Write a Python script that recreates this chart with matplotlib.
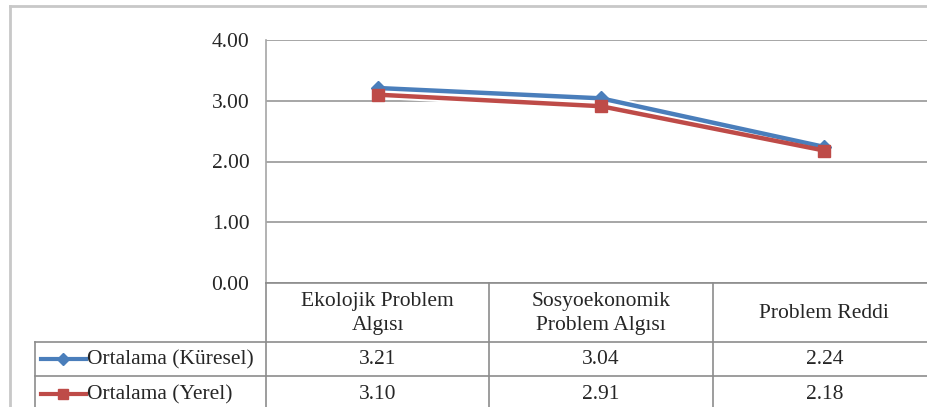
import matplotlib
matplotlib.use("Agg")
import matplotlib.pyplot as plt
from matplotlib.lines import Line2D
from matplotlib.transforms import blended_transform_factory

categories = ["Ekolojik Problem\nAlgısı", "Sosyoekonomik\nProblem Algısı", "Problem Reddi"]
series_names = ["Ortalama (Küresel)", "Ortalama (Yerel)"]
kuresel = [3.21, 3.04, 2.24]
yerel = [3.10, 2.91, 2.18]
yticks = [0, 1, 2, 3, 4]

W, H = 928, 407
fig = plt.figure(figsize=(W / 100, H / 100), dpi=100)
plt.rcParams["font.family"] = ["Liberation Serif", "DejaVu Serif"]
FS = 15.5
GRID = "#a6a6a6"
BLUE = "#4a7ebb"
RED = "#be4b48"
TXT = "#262626"


def fx(px):
    return px / W


def fy(py):
    return 1 - py / H


# plot area
x_left, x_right = 266, 936
y_top, y_bottom = 40, 283
ax = fig.add_axes([fx(x_left), fy(y_bottom), fx(x_right - x_left), (y_bottom - y_top) / H])
ax.set_xlim(-0.5, len(categories) - 0.5)
ax.set_ylim(0, 4)
ax.set_yticks(yticks)
ax.set_yticklabels([f"{v:.2f}" for v in yticks], fontsize=FS, color=TXT)
ax.tick_params(axis="y", length=0, pad=12)
ax.set_xticks([])
for s in ["top", "right", "bottom"]:
    ax.spines[s].set_visible(False)
ax.spines["left"].set_color(GRID)
ax.spines["left"].set_linewidth(1.2)
for v in yticks:
    ax.axhline(v, color=GRID, lw=1.4, zorder=0)

xs = list(range(len(categories)))
styles = [(kuresel, BLUE, "D", 7.5), (yerel, RED, "s", 8.5)]
for vals, col, mk, ms in styles:
    ax.plot(xs, vals, color="white", lw=6, zorder=2, solid_capstyle="round")
for vals, col, mk, ms in styles:
    ax.plot(xs, vals, color=col, lw=3.2, marker=mk, ms=ms, mec=col, mfc=col, zorder=3)

# chart frame
fig.add_artist(Line2D([fx(10), fx(10)], [fy(6), fy(H + 5)], color="#c8c8c8", lw=2, transform=fig.transFigure))
fig.add_artist(Line2D([fx(10), fx(W + 5)], [fy(6), fy(6)], color="#c8c8c8", lw=2, transform=fig.transFigure))

# data table
tr = blended_transform_factory(ax.transData, fig.transFigure)
row_tops = [283, 342, 376, 411]
table_left = 35
LC = "#8c8c8c"
fig.add_artist(Line2D([fx(x_left), 1.05], [fy(283), fy(283)], color=LC, lw=1.2, transform=fig.transFigure))
for y in row_tops[1:3]:
    fig.add_artist(Line2D([fx(table_left), 1.05], [fy(y), fy(y)], color=LC, lw=1.2, transform=fig.transFigure))
fig.add_artist(Line2D([fx(table_left), fx(table_left)], [fy(342), fy(H + 5)], color=LC, lw=1.2, transform=fig.transFigure))
fig.add_artist(Line2D([fx(x_left), fx(x_left)], [fy(283), fy(H + 5)], color=LC, lw=1.2, transform=fig.transFigure))
for i in range(1, len(categories)):
    fig.add_artist(Line2D([i - 0.5, i - 0.5], [fy(283), fy(H + 5)], color=LC, lw=1.2, transform=tr))

for i, c in enumerate(categories):
    fig.text(i, fy((283 + 342) / 2 + 1), c, transform=tr, ha="center", va="center",
             fontsize=FS, color=TXT, linespacing=1.35)

rows = [kuresel, yerel]
for r, (vals, name, (_, col, mk, ms)) in enumerate(zip(rows, series_names, styles)):
    yc = (row_tops[r + 1] + row_tops[r + 2]) / 2 + 1
    for i, v in enumerate(vals):
        fig.text(i, fy(yc), f"{v:.2f}", transform=tr, ha="center", va="center",
                 fontsize=FS, color=TXT)
    fig.add_artist(Line2D([fx(41), fx(86)], [fy(yc - 1), fy(yc - 1)], color=col, lw=3,
                          transform=fig.transFigure))
    fig.add_artist(Line2D([fx(63)], [fy(yc - 1)], color=col, marker=mk, ms=ms - 1,
                          mec=col, mfc=col, transform=fig.transFigure))
    fig.text(fx(87), fy(yc), name, ha="left", va="center", fontsize=FS, color=TXT)

fig.savefig("out.png", dpi=100)
